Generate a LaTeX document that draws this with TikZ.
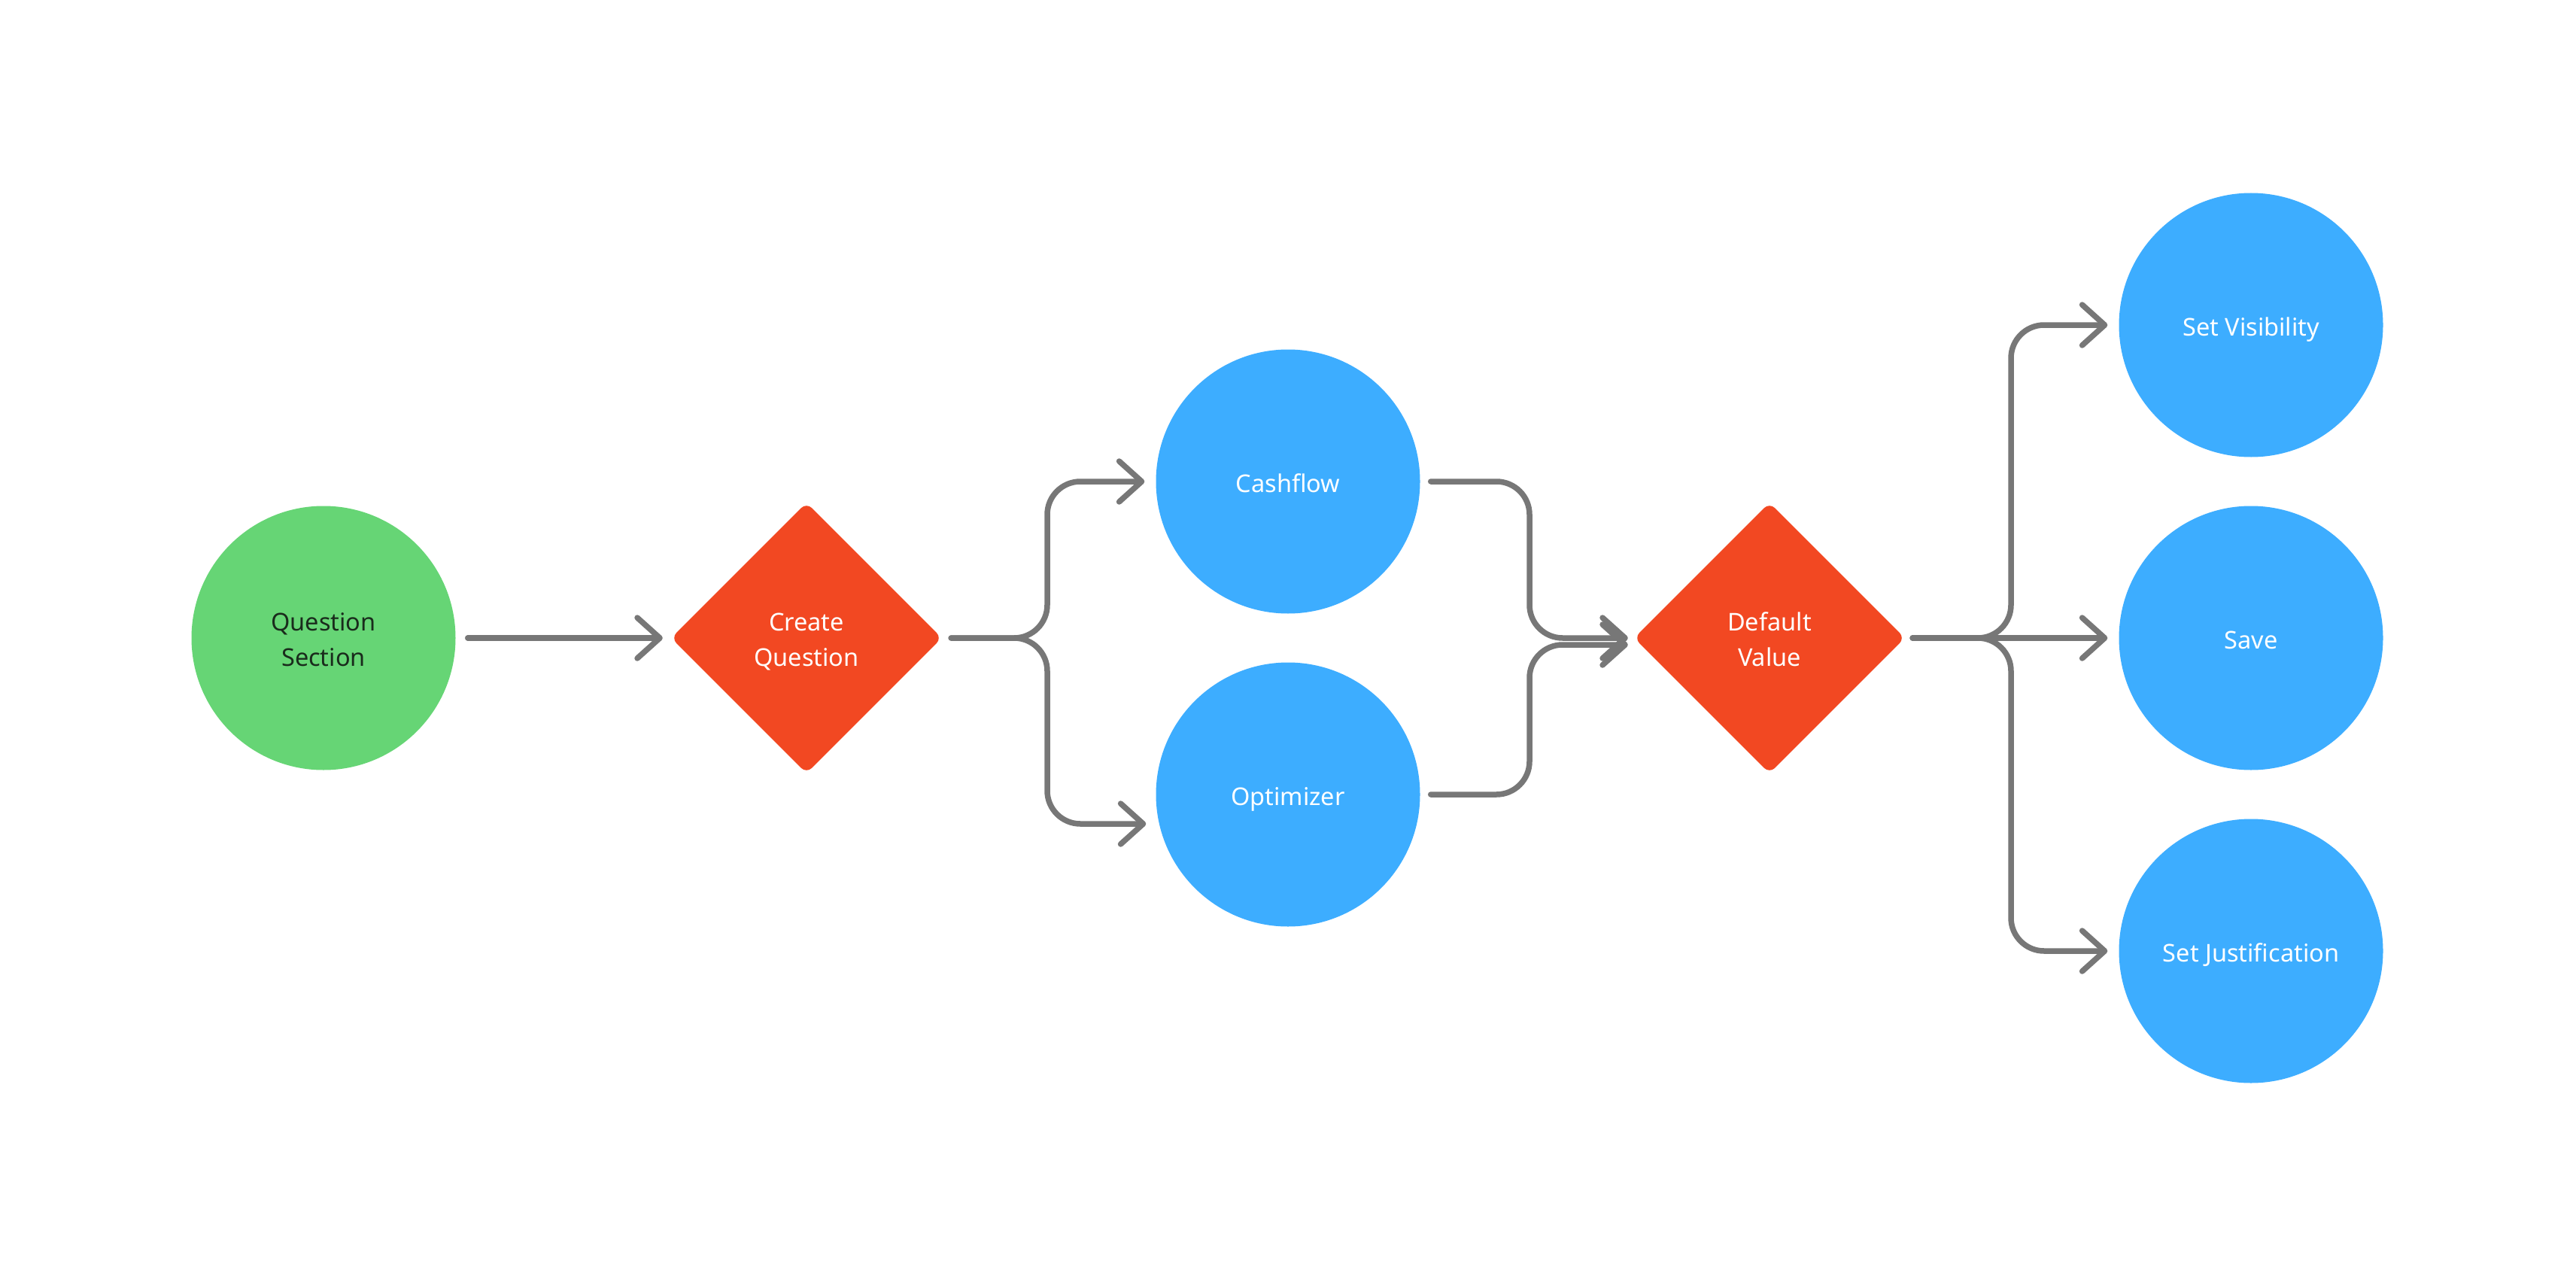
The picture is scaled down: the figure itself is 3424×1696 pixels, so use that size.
\documentclass[tikz,border=0pt]{standalone}
\usepackage{fontspec}
\setmainfont{Noto Sans}
\usetikzlibrary{shapes.geometric,arrows.meta}
\definecolor{cgreen}{HTML}{66D575}
\definecolor{cred}{HTML}{F24822}
\definecolor{cblue}{HTML}{3DADFF}
\definecolor{cgray}{HTML}{777777}
\definecolor{cdark}{HTML}{1A2B1C}
\tikzset{
  base/.style={inner sep=0pt, align=center, font=\fontsize{32.5}{47}\selectfont},
  startnode/.style={base, circle, fill=cgreen, text=cdark, minimum size=351pt},
  decision/.style={base, diamond, aspect=1, fill=cred, text=white, minimum width=360pt, minimum height=360pt, rounded corners=10pt},
  task/.style={base, circle, fill=cblue, text=white, minimum size=351pt},
  conn/.style={draw=cgray, line width=7.5pt, line cap=round, line join=round, rounded corners=44pt,
    -{Straight Barb[length=30pt, width=54pt, round]}},
}
\newcommand{\lbl}[1]{\raisebox{-5pt}[\height][\depth]{\begin{tabular}{@{}c@{}}#1\end{tabular}}}
\begin{document}
\begin{tikzpicture}[x=1pt, y=-1pt]
\useasboundingbox (0,0) rectangle (3424,1696);
\fill[white] (0,0) rectangle (3424,1696);

\node[startnode] (qs) at (430,848) {\lbl{Question\\Section}};
\node[decision]  (cq) at (1072,848) {\lbl{Create\\Question}};
\node[task]      (cf) at (1712,640) {\lbl{Cashflow}};
\node[task]      (op) at (1712,1056) {\lbl{Optimizer}};
\node[decision]  (dv) at (2352,848) {\lbl{Default\\Value}};
\node[task]      (sv) at (2992,432) {\lbl{Set Visibility}};
\node[task]      (sa) at (2992,848) {\lbl{Save}};
\node[task]      (sj) at (2992,1264) {\lbl{Set Justification}};

% junction / bend coordinates
\coordinate (j1) at (1392,848);
\coordinate (m1) at (2033,848);
\coordinate (m2) at (2033,857);
\coordinate (j2) at (2673,848);

% Question Section -> Create Question
\draw[conn] ([xshift=16pt]qs.east) -- ([xshift=-11pt]cq.west);

% Create Question -> Cashflow / Optimizer
\draw[conn] ([xshift=12pt]cq.east) -- (j1) |- ([xshift=-15pt]cf.west);
\draw[conn] ([xshift=12pt]cq.east) -- (j1) |- ([xshift=-13pt,yshift=-39pt]op.west);

% Cashflow / Optimizer -> Default Value
\draw[conn] ([xshift=14pt]cf.east) -| (m1) -- ([xshift=-8pt]dv.west);
\draw[conn] ([xshift=14pt]op.east) -| (m2) -- ([xshift=-8pt,yshift=-9pt]dv.west);

% Default Value -> Set Visibility / Save / Set Justification
\draw[conn] ([xshift=10pt]dv.east) -- (j2) |- ([xshift=-15pt]sv.west);
\draw[conn] ([xshift=10pt]dv.east) -- ([xshift=-15pt]sa.west);
\draw[conn] ([xshift=10pt]dv.east) -- (j2) |- ([xshift=-15pt]sj.west);
\end{tikzpicture}
\end{document}
